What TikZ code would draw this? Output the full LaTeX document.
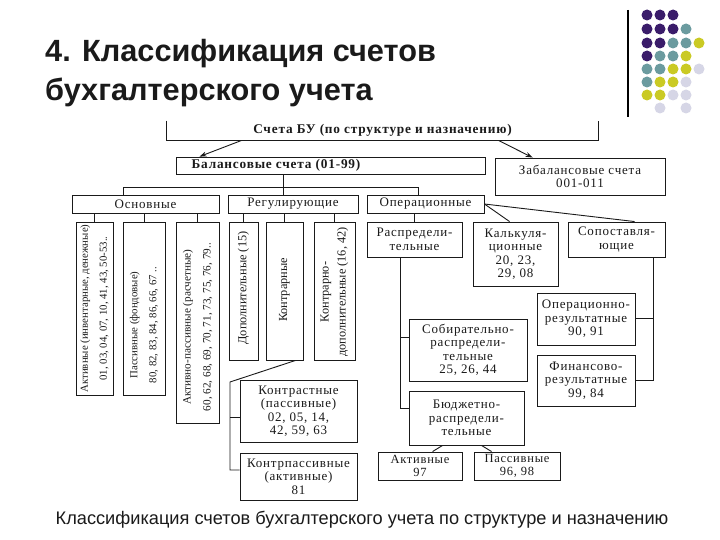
\documentclass[tikz,border=0pt]{standalone}
\usepackage{fontspec}
\setmainfont{Liberation Serif}
\newfontfamily\sansf{Liberation Sans}
\newfontfamily\diagf[LetterSpace=6]{Liberation Serif}
\newfontfamily\rotf{Liberation Serif}
\usetikzlibrary{arrows.meta}
\definecolor{dotP}{HTML}{3A1C6A}
\definecolor{dotT}{HTML}{6B9B9F}
\definecolor{dotY}{HTML}{CACA24}
\definecolor{dotL}{HTML}{D6D6E6}
\definecolor{ink}{HTML}{1A1A1A}
\begin{document}
\begin{tikzpicture}[x=1pt,y=-1pt,
  box/.style={draw=ink, line width=0.9pt, inner sep=0pt, align=center,
    font=\diagf\fontsize{13}{13.5}\selectfont, text=ink},
  rot/.style={rotate=90, align=center, inner sep=0pt,
    font=\rotf\fontsize{10.8}{19}\selectfont, text=ink},
  rotbig/.style={rot, font=\rotf\fontsize{12.3}{17}\selectfont},
  conn/.style={draw=ink, line width=0.9pt},
  arr/.style={conn, -{Stealth[length=7pt,width=5pt]}},
  dot/.style={circle, inner sep=0pt, minimum size=11pt}]
\useasboundingbox[fill=white] (0,0) rectangle (720,540);

% title
\node[anchor=base west, inner sep=0pt, font=\sansf\bfseries\fontsize{30.7}{36}\selectfont, text=ink] (t1) at (45,62) {4. Классификация счетов};
\node[anchor=base west, inner sep=0pt, font=\sansf\bfseries\fontsize{30.7}{36}\selectfont, text=ink] (t2) at (45,101) {бухгалтерского учета};

% decoration
\draw[line width=1.2pt] (628,10) -- (628,117);
\foreach \c/\x/\y in {dotP/647/15, dotP/660/15, dotP/673/15,
  dotP/647/29, dotP/660/29, dotP/673/29, dotT/686/29,
  dotP/647/43, dotP/660/43, dotT/673/43, dotT/686/43, dotY/699/43,
  dotP/647/56, dotT/660/56, dotT/673/56, dotY/686/56,
  dotT/647/69, dotT/660/69, dotY/673/69, dotY/686/69, dotL/699/69,
  dotT/647/82, dotY/660/82, dotY/673/82, dotL/686/82,
  dotY/647/95, dotY/660/95, dotL/673/95, dotL/686/95,
  dotL/660/108, dotL/686/108}
  \node[dot, fill=\c] at (\x,\y) {};

% boxes
\node[box, draw=none, minimum width=431pt, minimum height=19pt, font=\diagf\bfseries\fontsize{13.3}{14}\selectfont] (top) at (382.5,130.5) {Счета БУ (по структуре и назначению)};
\draw[conn] (top.north west) -- (top.south west) -- (top.south east) -- (top.north east);
\node[box, minimum width=309pt, minimum height=17pt] (bal) at (330.5,165.5) {};
\node[inner sep=0pt, font=\diagf\bfseries\fontsize{13.3}{14}\selectfont, text=ink] (baltext) at (276,165.5) {Балансовые счета (01-99)};
\node[box, minimum width=170pt, minimum height=37pt] (zab) at (580,176.5) {Забалансовые счета\\001-011};
\node[box, minimum width=147pt, minimum height=18pt] (osn) at (145.5,204) {Основные};
\node[box, minimum width=130pt, minimum height=18pt] (reg) at (293,204) {Регулирующие};
\node[box, minimum width=117pt, minimum height=18pt] (oper) at (425.5,204) {Операционные};

\node[box, minimum width=37pt, minimum height=173pt] (A) at (94.5,308.5) {};
\node[box, minimum width=42pt, minimum height=173pt] (B) at (144,308.5) {};
\node[box, minimum width=43pt, minimum height=201pt] (C) at (197.5,322.5) {};
\node[box, minimum width=29pt, minimum height=138pt] (D) at (243.5,291) {};
\node[box, minimum width=37pt, minimum height=138pt] (E) at (284.5,291) {};
\node[box, minimum width=41pt, minimum height=138pt] (F) at (334.5,291) {};
\node[rot] (At) at (94.5,308.5) {Активные (инвентарные, денежные)\\01, 03, 04, 07, 10, 41, 43, 50-53..};
\node[rot] (Bt) at (144,325) {Пассивные (фондовые)\\80, 82, 83, 84, 86, 66, 67 ..};
\node[rot, font=\rotf\fontsize{11.2}{20}\selectfont] (Ct) at (197.5,327) {Активно-пассивные (расчетные)\\60, 62, 68, 69, 70, 71, 73, 75, 76, 79..};
\node[rotbig] (Dt) at (243.5,288) {Дополнительные (15)};
\node[rotbig] (Et) at (284.5,290) {Контрарные};
\node[rotbig] (Ft) at (334.5,292) {Контрарно-\\дополнительные (16, 42)};

\node[box, minimum width=95pt, minimum height=35pt] (raspr) at (414.5,239.5) {Распредели-\\тельные};
\node[box, minimum width=85pt, minimum height=64pt] (kalk) at (515.5,254) {Калькуля-\\ционные\\20, 23,\\29, 08};
\node[box, minimum width=97pt, minimum height=35pt] (sopost) at (616.5,239.5) {Сопоставля-\\ющие};
\node[box, minimum width=98pt, minimum height=52pt] (oprez) at (586,319) {Операционно-\\результатные\\90, 91};
\node[box, minimum width=98pt, minimum height=51pt] (finrez) at (586,380.5) {Финансово-\\результатные\\99, 84};
\node[box, minimum width=118pt, minimum height=62pt] (sobir) at (468,350) {Собирательно-\\распредели-\\тельные\\25, 26, 44};
\node[box, minimum width=115pt, minimum height=54pt] (budg) at (466.5,418) {Бюджетно-\\распредели-\\тельные};
\node[box, minimum width=84pt, minimum height=28pt, font=\diagf\fontsize{12.5}{12.5}\selectfont] (akt) at (420,466) {Активные\\97};
\node[box, minimum width=86pt, minimum height=28pt, font=\diagf\fontsize{12.5}{12.5}\selectfont] (pas) at (517,466) {Пассивные\\96, 98};
\node[box, minimum width=117pt, minimum height=62pt] (kontrast) at (298.5,411) {Контрастные\\(пассивные)\\02, 05, 14,\\42, 59, 63};
\node[box, minimum width=117pt, minimum height=47pt] (kontrp) at (298.5,476.5) {Контрпассивные\\(активные)\\81};

% connectors
\draw[arr] ([xshift=75pt]top.south west) -- ([xshift=24pt]bal.north west);
\draw[arr] ([xshift=-100pt]top.south east) -- ([xshift=38pt]zab.north west);

\coordinate (j1) at (123,187);
\coordinate (j2) at (283,187);
\coordinate (j3) at (418,187);
\draw[conn] (j1 |- osn.north) -- (j1) -- (j3) -- (j3 |- oper.north);
\draw[conn] (j2 |- bal.south) -- (j2 |- reg.north);

\draw[conn] (A.north) -- (A.north |- osn.south);
\draw[conn] (B.north) -- (B.north |- osn.south);
\draw[conn] (C.north) -- (C.north |- osn.south);
\draw[conn] (D.north) -- (D.north |- reg.south);
\draw[conn] (E.north) -- (E.north |- reg.south);
\draw[conn] (F.north) -- (F.north |- reg.south);
\draw[conn] (raspr.north) -- (raspr.north |- oper.south);
\draw[conn] (oper.east) -- ([xshift=37pt]kalk.north west);
\draw[conn] (oper.east) -- ([xshift=67pt]sopost.north west);

\coordinate (rs) at (400,337);
\coordinate (rb) at (400,408);
\draw[conn] (raspr.south -| rb) -- (rb) -- (rb -| budg.west);
\draw[conn] (rs) -- (rs -| sobir.west);

\coordinate (so) at (653,318);
\coordinate (sv) at (653,380);
\draw[conn] (sopost.south -| sv) -- (sv) -- (sv -| finrez.east);
\draw[conn] (so) -- (so -| oprez.east);

\draw[conn] ([xshift=34pt]budg.south west) -- ([xshift=55pt]akt.north west);
\draw[conn] ([xshift=73pt]budg.south west) -- ([xshift=18pt]pas.north west);

\coordinate (kb) at (230,382);
\coordinate (kt) at (230,417);
\coordinate (kl) at (230,470);
\draw[conn] ([xshift=11pt]E.south) -- (kb) -- (kl) -- (kl -| kontrp.west);
\draw[conn] (kt) -- (kt -| kontrast.west);

% caption
\node[anchor=base, inner sep=0pt, font=\sansf\fontsize{18.2}{20}\selectfont, text=ink] (cap) at (362,524) {Классификация счетов бухгалтерского учета по структуре и назначению};
\end{tikzpicture}
\end{document}
